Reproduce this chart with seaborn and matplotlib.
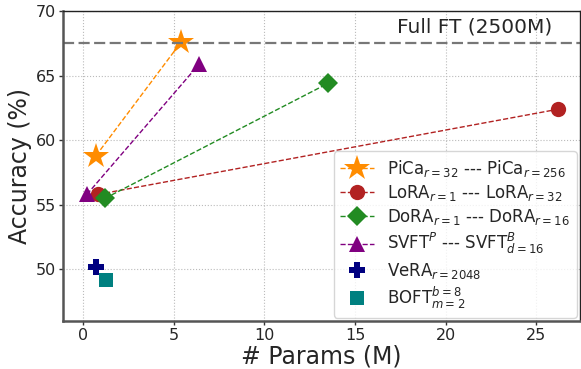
import pandas as pd
import seaborn as sns
import matplotlib
matplotlib.use('Agg')
import matplotlib.pyplot as plt

# Data
pica_params = [0.7, 5.4]
pica_acc = [58.8, 67.6]
lora_params = [0.8, 26.2]
lora_acc = [55.8, 62.4]
dora_params = [1.2, 13.5]
dora_acc = [55.5, 64.4]
svft_params = [0.2, 6.4]
svft_acc = [55.8, 65.9]
vera_params = [0.7]
vera_acc = [50.2]
boft_params = [1.25]
boft_acc = [49.2]
full_ft_acc = 67.5

sns.set_style("white")
plt.rcParams['font.family'] = ['DejaVu Sans']

fig, ax = plt.subplots(figsize=(5.81, 3.69), dpi=100)

# paired methods, dashed line between small and large config
pairs = [
    (pica_params, pica_acc, 'darkorange', '*', 19, r'PiCa$_{r=32}$ --- PiCa$_{r=256}$'),
    (lora_params, lora_acc, 'firebrick', 'o', 11, r'LoRA$_{r=1}$ --- LoRA$_{r=32}$'),
    (dora_params, dora_acc, 'forestgreen', 'D', 10, r'DoRA$_{r=1}$ --- DoRA$_{r=16}$'),
    (svft_params, svft_acc, 'purple', '^', 11, r'SVFT$^{P}$ --- SVFT$^{B}_{d=16}$'),
]
for xs, ys, c, m, ms, lab in pairs:
    sns.lineplot(x=xs, y=ys, ax=ax, color=c, marker=m, markersize=ms,
                 linestyle='--', linewidth=1, markeredgewidth=0, label=lab)

# single-point methods
sns.lineplot(x=vera_params, y=vera_acc, ax=ax, color='navy', marker='P', markersize=12,
             linestyle='none', markeredgewidth=0, label=r'VeRA$_{r=2048}$')
sns.lineplot(x=boft_params, y=boft_acc, ax=ax, color='teal', marker='s', markersize=10,
             linestyle='none', markeredgewidth=0, label=r'BOFT$^{b=8}_{m=2}$')

ax.axhline(full_ft_acc, color='#777777', linestyle='--', linewidth=1.6, dashes=(5, 2))
ax.text(25.9, full_ft_acc + 0.5, 'Full FT (2500M)', fontsize=14.5, ha='right', va='bottom')

ax.set_xlim(-1.1, 27.4)
ax.set_ylim(46, 70)
ax.set_xticks([0, 5, 10, 15, 20, 25])
ax.set_yticks([50, 55, 60, 65, 70])
ax.grid(True, linestyle=':', color='#bbbbbb', linewidth=0.8)
ax.tick_params(axis='both', labelsize=11.5, length=3, width=1, pad=2,
               left=True, bottom=True, color='#333333')

for side in ['left', 'bottom']:
    ax.spines[side].set_color('#555555')
    ax.spines[side].set_linewidth(1.8)
for side in ['top', 'right']:
    ax.spines[side].set_color('#222222')
    ax.spines[side].set_linewidth(1)

ax.set_xlabel('# Params (M)', fontsize=17, labelpad=1)
ax.set_ylabel('Accuracy (%)', fontsize=17, labelpad=3)

ax.legend(loc='lower right', fontsize=12, handlelength=2, labelspacing=0.25,
          borderpad=0.4, handletextpad=0.8, borderaxespad=0.2)

plt.subplots_adjust(left=0.109, right=0.998, top=0.97, bottom=0.13)
fig.savefig('out.png', dpi=100)
